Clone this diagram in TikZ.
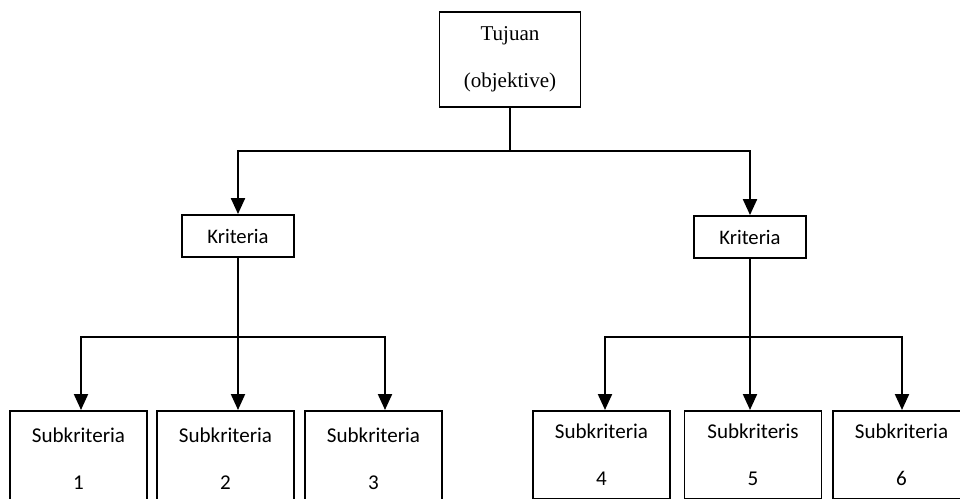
\documentclass[tikz,border=0pt]{standalone}
\usepackage{fontspec}
\setmainfont{Liberation Serif}
\newfontfamily\calibri{Carlito}
\usetikzlibrary{arrows.meta}

\tikzset{
    box/.style={draw, line width=1.4pt, align=center, inner sep=0pt},
    goalbox/.style={box, minimum width=105.75pt, minimum height=71.25pt,
        font=\fontsize{15.8}{35}\selectfont},
    critbox/.style={box, minimum width=84pt, minimum height=31.5pt,
        font=\calibri\fontsize{15.5}{18}\selectfont},
    subbox/.style={box, anchor=north, minimum width=102.75pt, minimum height=66pt,
        font=\calibri\fontsize{15.8}{35}\selectfont},
    subcut/.style={subbox, minimum height=72pt},
    link/.style={line width=1.6pt},
    arrow/.style={link, -{Triangle[length=12pt, width=10.5pt]}}
}

\begin{document}
\begin{tikzpicture}[x=0.75pt, y=-0.75pt]

    \useasboundingbox (0,0) rectangle (960,499);

    % goal
    \node[goalbox] (goal) at (510,59.5) {Tujuan\\(objektive)};

    % criteria
    \node[critbox] (kritA) at (238,236) {Kriteria};
    \node[critbox] (kritB) at (750,237) {Kriteria};

    % subcriteria
    \node[subcut] (sub1) at (78.5,410) {Subkriteria\\1};
    \node[subcut] (sub2) at (225.5,410) {Subkriteria\\2};
    \node[subcut] (sub3) at (373.5,410) {Subkriteria\\3};
    \node[subbox] (sub4) at (601.5,410) {Subkriteria\\4};
    \node[subbox] (sub5) at (753,410) {Subkriteris\\5};
    \node[subbox] (sub6) at (901.5,410) {Subkriteria\\6};

    % goal to criteria
    \coordinate (topbus) at (0,151);
    \draw[link]
        (goal.south) --
        (goal.south |- topbus);
    \draw[arrow]
        (goal.south |- topbus) -|
        (kritA.north);
    \draw[arrow]
        (goal.south |- topbus) -|
        (kritB.north);

    % criteria to subcriteria, left
    \coordinate (dropA1) at (81,337);
    \coordinate (dropA3) at (385,337);
    \draw[arrow]
        (kritA.south) --
        (kritA.south |- sub2.north);
    \draw[arrow]
        (kritA.south |- dropA1) -|
        (dropA1 |- sub1.north);
    \draw[arrow]
        (kritA.south |- dropA3) -|
        (dropA3 |- sub3.north);

    % criteria to subcriteria, right
    \coordinate (dropB4) at (605,337);
    \coordinate (dropB6) at (902,337);
    \draw[arrow]
        (kritB.south) --
        (kritB.south |- sub5.north);
    \draw[arrow]
        (kritB.south |- dropB4) -|
        (dropB4 |- sub4.north);
    \draw[arrow]
        (kritB.south |- dropB6) -|
        (dropB6 |- sub6.north);

\end{tikzpicture}
\end{document}
